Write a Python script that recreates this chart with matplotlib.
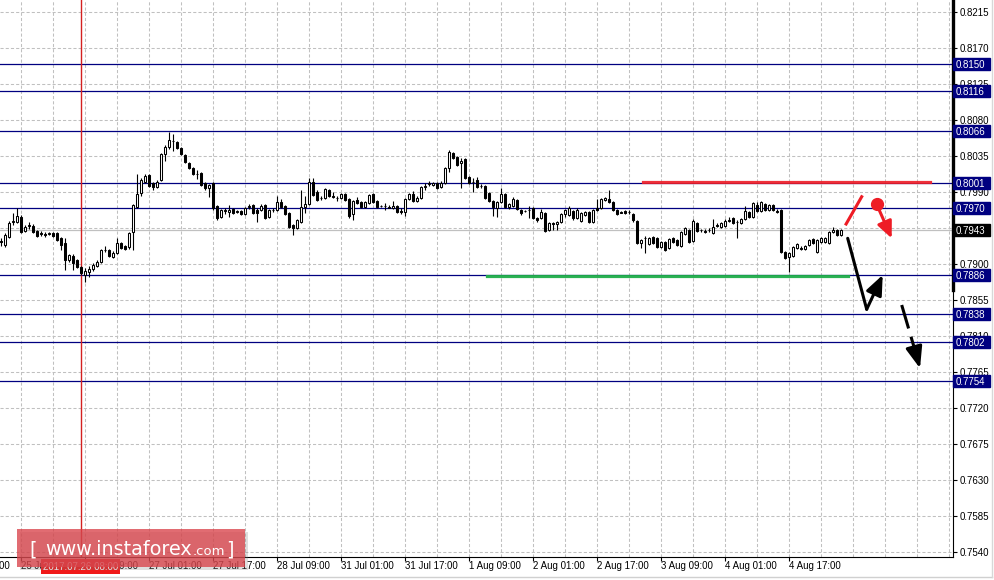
import numpy as np
import matplotlib.pyplot as plt
import matplotlib.transforms as mtransforms
from matplotlib.patches import Rectangle
from matplotlib.lines import Line2D

plt.rcParams['font.family'] = ['Liberation Sans', 'DejaVu Sans']

# H1 candles, price in pips (x 0.0001)
opens = [7929, 7924, 7934, 7953, 7953, 7959, 7941, 7948, 7948, 7941,
         7939, 7938, 7938, 7939, 7939, 7933, 7926, 7905, 7910, 7905,
         7896, 7886, 7890, 7894, 7898, 7903, 7918, 7918, 7909, 7914,
         7926, 7923, 7921, 7940, 7971, 7989, 8003, 8011, 8001, 7996,
         8005, 8038, 8046, 8054, 8053, 8045, 8036, 8026, 8020, 8013,
         8014, 8001, 7995, 8001, 7973, 7959, 7966, 7965, 7969, 7965,
         7966, 7963, 7971, 7974, 7968, 7968, 7974, 7959, 7968, 7968,
         7978, 7973, 7964, 7949, 7945, 7953, 7971, 7975, 8003, 7990,
         7983, 7983, 7993, 7985, 7983, 7983, 7988, 7981, 7963, 7980,
         7978, 7971, 7976, 7988, 7979, 7973, 7973, 7971, 7970, 7973,
         7966, 7965, 7981, 7988, 7979, 7983, 7996, 8000, 7999, 8001,
         7996, 8001, 8020, 8039, 8034, 8026, 8031, 8009, 8003, 8005,
         7998, 7998, 7989, 7979, 7970, 7978, 7988, 7971, 7973, 7980,
         7968, 7966, 7968, 7970, 7958, 7958, 7964, 7943, 7951, 7950,
         7953, 7963, 7961, 7966, 7958, 7954, 7961, 7965, 7953, 7970,
         7970, 7980, 7981, 7978, 7968, 7965, 7966, 7965, 7963, 7954,
         7926, 7933, 7925, 7934, 7933, 7921, 7928, 7920, 7933, 7930,
         7923, 7938, 7943, 7929, 7951, 7943, 7941, 7943, 7939, 7949,
         7946, 7948, 7955, 7958, 7953, 7951, 7956, 7965, 7959, 7974,
         7966, 7975, 7968, 7974, 7966, 7968, 7915, 7909, 7910, 7920,
         7920, 7919, 7924, 7931, 7915, 7928, 7928, 7926, 7940, 7943, 7936]
highs = [7933, 7939, 7954, 7964, 7970, 7961, 7949, 7953, 7950, 7943,
         7941, 7940, 7940, 7940, 7940, 7934, 7933, 7913, 7913, 7906,
         7898, 7895, 7898, 7901, 7905, 7919, 7923, 7919, 7916, 7933,
         7928, 7924, 7940, 7975, 8013, 8008, 8013, 8013, 8003, 8005,
         8039, 8049, 8065, 8063, 8054, 8046, 8038, 8028, 8021, 8018,
         8015, 8003, 8000, 8003, 7974, 7969, 7970, 7974, 7970, 7968,
         7968, 7971, 7975, 7975, 7970, 7975, 7975, 7969, 7970, 7985,
         7981, 7974, 7965, 7950, 7956, 7993, 7985, 8008, 8008, 7993,
         7985, 7995, 7994, 7990, 7985, 7989, 7989, 7983, 7980, 7984,
         7979, 7979, 7988, 7989, 7980, 7974, 7976, 7974, 7979, 7974,
         7970, 7983, 7989, 7991, 7985, 7998, 8001, 8004, 8003, 8003,
         8004, 8021, 8043, 8040, 8035, 8033, 8033, 8010, 8008, 8009,
         8000, 7999, 7990, 7980, 7979, 7995, 7989, 7976, 7984, 7981,
         7969, 7968, 7973, 7971, 7959, 7969, 7965, 7953, 7953, 7954,
         7964, 7969, 7973, 7968, 7970, 7965, 7966, 7966, 7969, 7981,
         7983, 7984, 7993, 7979, 7969, 7966, 7968, 7968, 7964, 7955,
         7931, 7935, 7934, 7935, 7934, 7929, 7929, 7933, 7934, 7931,
         7941, 7946, 7944, 7956, 7953, 7944, 7944, 7945, 7956, 7951,
         7953, 7956, 7959, 7959, 7955, 7958, 7973, 7966, 7978, 7978,
         7979, 7976, 7975, 7975, 7969, 7969, 7916, 7915, 7923, 7926,
         7923, 7924, 7931, 7933, 7931, 7934, 7934, 7941, 7946, 7944, 7944]
lows = [7923, 7921, 7933, 7949, 7951, 7939, 7940, 7944, 7939, 7934,
        7935, 7934, 7936, 7934, 7929, 7918, 7893, 7903, 7893, 7895,
        7886, 7878, 7884, 7891, 7896, 7901, 7915, 7909, 7908, 7913,
        7919, 7918, 7919, 7918, 7970, 7985, 8001, 7996, 7993, 7995,
        8004, 8029, 8044, 8041, 8044, 8036, 8026, 8019, 8011, 8006,
        7998, 7993, 7984, 7968, 7955, 7958, 7963, 7959, 7963, 7964,
        7961, 7961, 7969, 7963, 7953, 7966, 7956, 7958, 7965, 7966,
        7970, 7961, 7945, 7936, 7944, 7951, 7964, 7974, 7985, 7979,
        7980, 7981, 7984, 7983, 7979, 7981, 7979, 7958, 7955, 7975,
        7970, 7970, 7975, 7976, 7970, 7971, 7968, 7970, 7969, 7964,
        7963, 7960, 7980, 7978, 7978, 7981, 7993, 7998, 7998, 7994,
        7995, 8000, 8015, 8031, 8023, 7995, 8006, 8000, 7990, 7995,
        7995, 7981, 7978, 7960, 7959, 7976, 7970, 7969, 7971, 7968,
        7961, 7965, 7958, 7956, 7953, 7956, 7940, 7941, 7943, 7943,
        7951, 7959, 7960, 7955, 7956, 7953, 7960, 7951, 7951, 7966,
        7969, 7979, 7976, 7966, 7961, 7964, 7963, 7963, 7953, 7925,
        7920, 7914, 7924, 7925, 7920, 7920, 7916, 7919, 7926, 7923,
        7921, 7936, 7926, 7928, 7940, 7940, 7939, 7940, 7938, 7946,
        7945, 7946, 7953, 7950, 7933, 7950, 7955, 7958, 7958, 7965,
        7965, 7966, 7966, 7966, 7964, 7914, 7906, 7890, 7909, 7919,
        7918, 7918, 7923, 7925, 7914, 7926, 7926, 7925, 7939, 7935, 7935]
closes = [7928, 7936, 7951, 7954, 7960, 7940, 7946, 7949, 7940, 7935,
          7938, 7936, 7939, 7935, 7930, 7924, 7905, 7911, 7901, 7896,
          7889, 7891, 7894, 7899, 7903, 7918, 7918, 7910, 7914, 7926,
          7920, 7919, 7939, 7974, 7988, 8005, 8010, 7998, 7996, 8003,
          8038, 8046, 8055, 8054, 8045, 8038, 8028, 8020, 8013, 8012,
          7999, 7995, 7999, 7970, 7958, 7968, 7967, 7968, 7964, 7966,
          7963, 7970, 7972, 7964, 7964, 7973, 7958, 7968, 7967, 7978,
          7971, 7963, 7946, 7945, 7955, 7971, 7975, 8003, 7986, 7980,
          7982, 7994, 7985, 7984, 7982, 7988, 7980, 7960, 7979, 7976,
          7971, 7978, 7986, 7978, 7971, 7972, 7972, 7970, 7973, 7965,
          7965, 7981, 7988, 7979, 7983, 7996, 7997, 8001, 8001, 7995,
          8001, 8020, 8040, 8033, 8024, 8029, 8008, 8001, 8002, 7996,
          7997, 7983, 7979, 7971, 7978, 7988, 7971, 7975, 7981, 7969,
          7964, 7966, 7967, 7958, 7955, 7965, 7941, 7951, 7950, 7953,
          7963, 7968, 7970, 7958, 7968, 7964, 7965, 7953, 7968, 7968,
          7981, 7983, 7978, 7968, 7963, 7964, 7964, 7965, 7955, 7926,
          7930, 7932, 7933, 7926, 7921, 7928, 7918, 7931, 7928, 7924,
          7940, 7945, 7928, 7954, 7941, 7942, 7940, 7942, 7946, 7948,
          7951, 7954, 7954, 7951, 7952, 7956, 7966, 7959, 7976, 7966,
          7978, 7968, 7974, 7968, 7965, 7915, 7908, 7914, 7921, 7925,
          7919, 7923, 7930, 7926, 7930, 7933, 7933, 7940, 7943, 7936, 7943]

time_labels = ["25 Jul 01:00", "25 Jul 17:00", "26 Jul 09:00", "27 Jul 01:00",
               "27 Jul 17:00", "28 Jul 09:00", "31 Jul 01:00", "31 Jul 17:00",
               "1 Aug 09:00", "2 Aug 01:00", "2 Aug 17:00", "3 Aug 09:00",
               "4 Aug 01:00", "4 Aug 17:00"]
label_bars = [-11, 5, 21, 37, 53, 69, 85, 101, 117, 133, 149, 165, 181, 197]
price_ticks = [0.7540, 0.7585, 0.7630, 0.7675, 0.7720, 0.7765, 0.7810, 0.7855,
               0.7900, 0.7945, 0.7990, 0.8035, 0.8080, 0.8125, 0.8170, 0.8215]
levels = [0.8150, 0.8116, 0.8066, 0.8001, 0.7970, 0.7886, 0.7838, 0.7802, 0.7754]
last_price = 0.7943
cursor_bar = 20
cursor_text = "2017.07.26 08:00"

o = np.array(opens) / 10000
h = np.array(highs) / 10000
l = np.array(lows) / 10000
c = np.array(closes) / 10000
x = np.arange(len(c))

W, H = 994, 580
fig = plt.figure(figsize=(W / 100, H / 100), dpi=100)
ax = fig.add_axes([0, 23 / H, 953 / W, 557 / H])
ax.set_xlim(-0.325, 237.925)
ax.set_ylim(0.753375, 0.823)

# grid
for gb in range(-11, 238, 8):
    ax.axvline(gb, color="#c0c0c0", lw=0.75, ls=(0, (3, 2)), zorder=0)
for pt in price_ticks:
    ax.axhline(pt, color="#c0c0c0", lw=0.75, ls=(0, (3, 2)), zorder=0)
ax.axhline(last_price, color="#c0c0c0", lw=0.9, zorder=0.5)

# levels
for lv in levels:
    ax.axhline(lv, color="#000080", lw=0.9, zorder=1)
ax.axvline(cursor_bar, color="#d42020", lw=1.0, zorder=1)

# candles
up = c >= o
ax.vlines(x, l, h, color="black", lw=0.8, zorder=2)
ax.bar(x, np.abs(c - o), bottom=np.minimum(o, c), width=0.55,
       color=np.where(up, "white", "black"), edgecolor="black", lw=0.75, zorder=3)

# hand drawn forecast
red = "#ee1c25"
ax.plot([160.4, 232.2], [0.80025, 0.80025], color=red, lw=2.3, alpha=0.9, zorder=4)
ax.plot([121.4, 211.7], [0.78854, 0.78854], color="#1fae4a", lw=2.3, alpha=0.95, zorder=4)
ax.plot([211.2, 215.1], [0.7950, 0.79841], color=red, lw=2.2, zorder=4)
ax.plot([218.85], [0.79746], "o", color=red, ms=8.5, zorder=4)
ax.annotate("", xy=(222.6, 0.79321), xytext=(218.85, 0.79746),
            arrowprops=dict(arrowstyle="-|>,head_length=1.0,head_width=0.45",
                            color=red, lw=2.2, shrinkA=0, shrinkB=0), zorder=4)
ax.plot([211.6, 216.35], [0.79321, 0.784338], color="black", lw=2.2,
        solid_capstyle="round", zorder=4)
ax.annotate("", xy=(220.35, 0.788625), xytext=(216.35, 0.784338),
            arrowprops=dict(arrowstyle="-|>,head_length=1.2,head_width=0.5",
                            color="black", lw=2.2, shrinkA=0, shrinkB=0), zorder=4)
ax.plot([225.1, 228.4], [0.784875, 0.77925], color="black", lw=2.2,
        dashes=[8, 2.8], zorder=4)
ax.annotate("", xy=(229.68, 0.776963), xytext=(228.18, 0.779625),
            arrowprops=dict(arrowstyle="-|>,head_length=1.3,head_width=0.5",
                            color="black", lw=2.2, shrinkA=0, shrinkB=0), zorder=4)

# axes styling
for s in ["top", "left"]:
    ax.spines[s].set_visible(False)
ax.spines["right"].set_linewidth(0.8)
ax.spines["bottom"].set_linewidth(0.8)
ax.add_line(Line2D([1, 1], [0.4794, 1], transform=ax.transAxes, color="black",
                   lw=2.4, clip_on=False, zorder=5))
ax.yaxis.tick_right()
ax.set_yticks(price_ticks)
# the tick next to the current price is covered by its label in the terminal
ax.set_yticklabels(["" if abs(v - last_price) < 0.0005 else "%.4f" % v
                    for v in price_ticks])
ax.tick_params(axis="y", length=3, width=0.8, pad=1.5, labelsize=7)
ax.set_xticks(label_bars[1:])
ax.tick_params(axis="x", length=3, width=0.8, labelbottom=False)
for lb, txt in zip(label_bars, time_labels):
    ax.text(lb, -0.008, txt, transform=ax.get_xaxis_transform(), ha="left",
            va="top", fontsize=7, clip_on=False)

# level labels on the price scale
trans = mtransforms.blended_transform_factory(ax.transAxes, ax.transData)
bw = 37 / 953
for lv, col in [(v, "#000080") for v in levels] + [(last_price, "black")]:
    ax.add_patch(Rectangle((1.0, lv - 0.00075), bw, 0.0015, transform=trans,
                           color=col, clip_on=False, zorder=6))
    ax.text(1.0 + 3 / 953, lv, "%.4f" % lv, transform=trans, color="white",
            fontsize=7, ha="left", va="center_baseline", clip_on=False, zorder=7)

# cursor time label
fig.text(43 / W, 1 - 566.5 / H, cursor_text, color="white", fontsize=7,
         ha="left", va="center", zorder=2,
         bbox=dict(boxstyle="square,pad=0.22", fc="#f01818", ec="none"))

# window frame
fig.add_artist(Line2D([0, 992 / W], [1 - 577 / H] * 2, color="#d0d0d0", lw=1))
fig.add_artist(Line2D([992 / W] * 2, [1 - 577 / H, 1], color="#d8d8d8", lw=1))

# watermark
fig.add_artist(Rectangle((20 / W, 1 - 570 / H), 228 / W, 38 / H, transform=fig.transFigure,
                         fc="gray", alpha=0.25, ec="none", zorder=3))
fig.add_artist(Rectangle((17 / W, 1 - 567 / H), 228 / W, 38 / H, transform=fig.transFigure,
                         fc="#d9434a", alpha=0.78, ec="none", zorder=3))
wm = dict(color="white", va="baseline", family="DejaVu Sans", zorder=4)
fig.text(29 / W, 1 - 555 / H, "[", fontsize=14, **wm)
fig.text(45 / W, 1 - 555 / H, "www.instaforex", fontsize=13.8, **wm)
fig.text(193 / W, 1 - 555 / H, ".com", fontsize=9.5, **wm)
fig.text(226 / W, 1 - 555 / H, "]", fontsize=14, **wm)

fig.savefig("out.png", dpi=100)
